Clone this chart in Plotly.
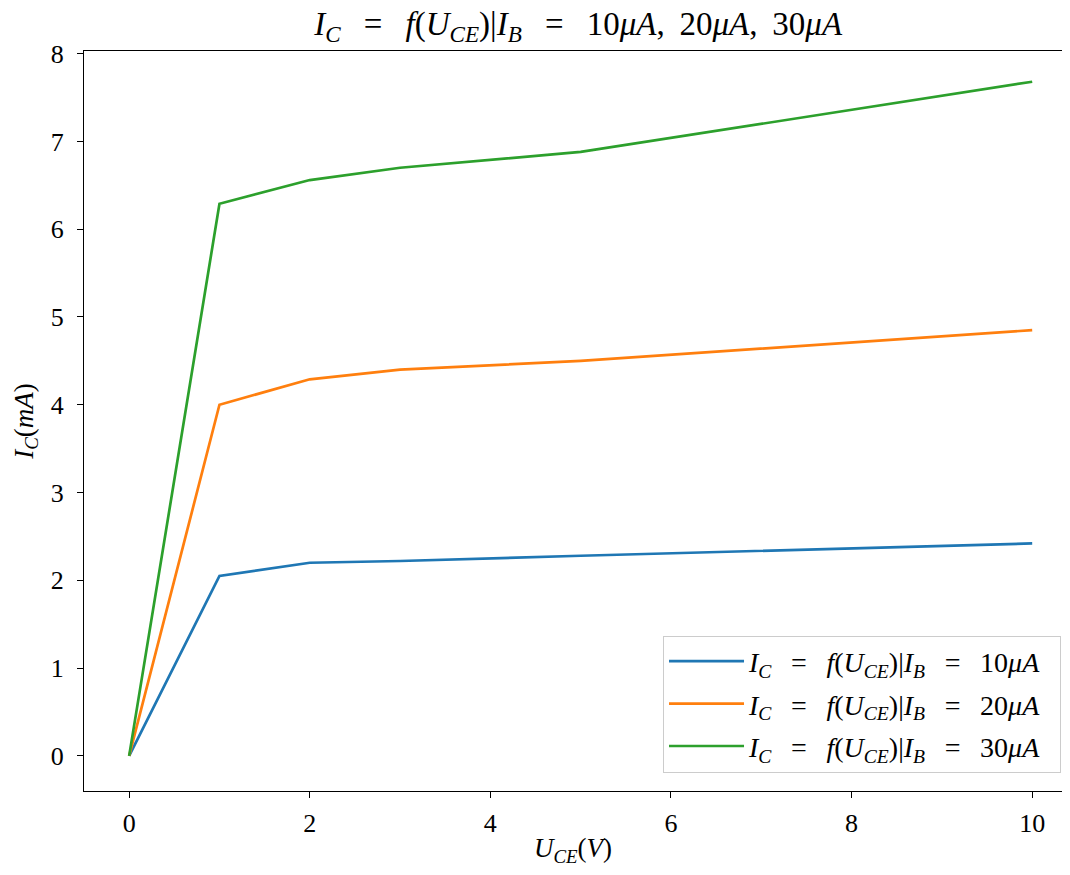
import plotly.graph_objects as go

u_ce = [0, 1, 2, 3, 5, 10]
ic_10 = [0.0, 2.05, 2.20, 2.22, 2.28, 2.42]
ic_20 = [0.0, 4.00, 4.29, 4.40, 4.50, 4.85]
ic_30 = [0.0, 6.29, 6.56, 6.70, 6.88, 7.68]
labels = ["10", "20", "30"]
colors = ["#1f77b4", "#ff7f0e", "#2ca02c"]
x_ticks = [0, 2, 4, 6, 8, 10]
y_ticks = [0, 1, 2, 3, 4, 5, 6, 7, 8]

FONT = "Liberation Serif"
EQ = "\u2002\u2009=\u2002\u2009"

def lbl(v):
    return ("<i>I</i><sub><i>C</i></sub>" + EQ + "<i>f</i>(<i>U</i><sub><i>CE</i></sub>)|"
            "<i>I</i><sub><i>B</i></sub>" + EQ + v + "<i>μA</i>\u2002")

fig = go.Figure()
for i, ys in enumerate([ic_10, ic_20, ic_30]):
    fig.add_trace(go.Scatter(x=u_ce, y=ys, mode="lines", name=lbl(labels[i]),
                             line=dict(color=colors[i], width=2.7),
                             legendgroup=str(i)))

fig.update_layout(
    width=1054, height=859,
    margin=dict(l=76, r=0, t=43, b=76, autoexpand=False),
    paper_bgcolor="white", plot_bgcolor="white",
    font=dict(family=FONT, size=26, color="black"),
    title=dict(text="<i>I</i><sub><i>C</i></sub>" + EQ + "<i>f</i>(<i>U</i><sub><i>CE</i></sub>)|"
                    "<i>I</i><sub><i>B</i></sub>" + EQ + "10<i>μA</i>,\u2009 20<i>μA</i>,\u2009 30<i>μA</i>",
               x=0.541, xanchor="center", y=0.982, yanchor="middle",
               font=dict(size=33)),
    xaxis=dict(range=[-0.5, 10.33], tickvals=x_ticks, showgrid=False,
               zeroline=False, showline=True, linecolor="black", linewidth=1.3,
               mirror=True, ticks="outside", ticklen=6, tickcolor="black",
               tickfont=dict(size=26), ticklabelstandoff=3,
               title=dict(text="<i>U</i><sub><i>CE</i></sub>(<i>V</i>)", standoff=14,
                          font=dict(size=27))),
    yaxis=dict(range=[-0.4, 8.03], tickvals=y_ticks, showgrid=False,
               zeroline=False, showline=True, linecolor="black", linewidth=1.3,
               mirror=False, ticks="outside", ticklen=6, tickcolor="black",
               tickfont=dict(size=26), ticklabelstandoff=8,
               title=dict(text="<i>I</i><sub><i>C</i></sub>(<i>mA</i>)", standoff=9,
                          font=dict(size=27))),
    legend=dict(x=0.999, y=0.025, xanchor="right", yanchor="bottom",
                bgcolor="rgba(255,255,255,0.8)", bordercolor="#cccccc", borderwidth=1,
                font=dict(size=28), tracegroupgap=3, itemwidth=75),
    showlegend=True,
)

fig.write_html("out.html")
